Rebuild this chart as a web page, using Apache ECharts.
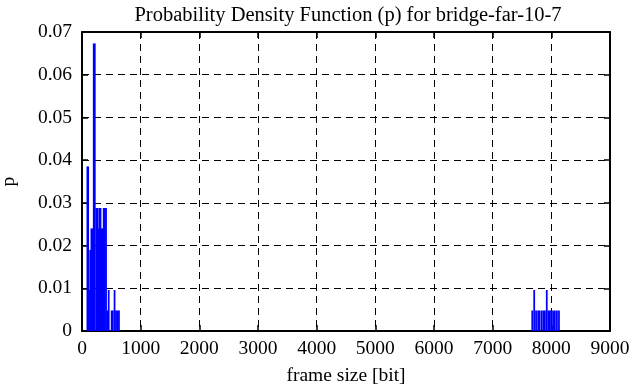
<!DOCTYPE html>
<html>
<head>
<meta charset="utf-8">
<script src="https://cdn.jsdelivr.net/npm/echarts@6/dist/echarts.min.js"></script>
<style>html,body{margin:0;padding:0;background:#fff}#c{width:631px;height:387px}</style>
</head>
<body>
<div id="c"></div>
<script>
// frame sizes (bit) of each impulse and their probability
const frameSize = [
  92, 105, 120, 140, 160, 180, 200, 218, 245, 268, 286, 302, 316, 335, 350, 370, 390, 410,
  432, 455, 505, 525, 555, 580, 605, 630,
  7675, 7708, 7740, 7775, 7800, 7835, 7865, 7890, 7922, 7950, 7975, 8000, 8030, 8060, 8095, 8130
];
const prob = [
  0.0385, 0.0385, 0.0096, 0.0190, 0.0240, 0.0240, 0.0673, 0.0673, 0.0288, 0.0288, 0.0240, 0.0288, 0.0288, 0.0240, 0.0240, 0.0288, 0.0288, 0.0288,
  0.0048, 0.0096, 0.0048, 0.0048, 0.0096, 0.0048, 0.0048, 0.0048,
  0.0048, 0.0096, 0.0048, 0.0048, 0.0048, 0.0048, 0.0048, 0.0048, 0.0096, 0.0048, 0.0048, 0.0048, 0.0048, 0.0048, 0.0048, 0.0048
];
const xTicks = [0, 1000, 2000, 3000, 4000, 5000, 6000, 7000, 8000, 9000];
const yTicks = [0, 0.01, 0.02, 0.03, 0.04, 0.05, 0.06, 0.07];
const titleText = 'Probability Density Function (p) for bridge-far-10-7';
const xName = 'frame size [bit]';
const yName = 'p';

const impulseWidth = 30; // bit
const font = 'Liberation Serif';
const data = frameSize.map((x, i) => [x, prob[i]]);

const chart = echarts.init(document.getElementById('c'), null, {renderer: 'canvas'});
const axisCommon = {
  axisLine: {show: true, onZero: false, lineStyle: {color: '#000', width: 2}},
  axisTick: {show: true, inside: true, length: 6, lineStyle: {color: '#000', width: 1.5}},
};
chart.setOption({
  animation: false,
  backgroundColor: '#fff',
  title: {
    text: titleText, left: 343, top: 0, textAlign: 'center',
    textStyle: {fontFamily: font, fontSize: 20.5, fontWeight: 'normal', color: '#000'}
  },
  grid: {left: 82, right: 21, top: 32, bottom: 56, containLabel: false, outerBoundsMode: 'none'},
  xAxis: [
    Object.assign({
      type: 'value', min: xTicks[0], max: xTicks[xTicks.length - 1], interval: 1000,
      position: 'bottom',
      name: xName, nameLocation: 'middle', nameGap: 35,
      nameTextStyle: {fontFamily: font, fontSize: 19.5, color: '#000'},
      axisLabel: {fontFamily: font, fontSize: 19.5, color: '#000', margin: 8,
        formatter: v => String(v)},
      splitLine: {show: true, lineStyle: {color: '#000', type: [7, 5], width: 1}}
    }, axisCommon),
    Object.assign({
      type: 'value', min: xTicks[0], max: xTicks[xTicks.length - 1], interval: 1000,
      position: 'top', axisLabel: {show: false}, splitLine: {show: false}
    }, axisCommon)
  ],
  yAxis: [
    Object.assign({
      type: 'value', min: yTicks[0], max: yTicks[yTicks.length - 1], interval: 0.01,
      position: 'left',
      name: yName, nameLocation: 'middle', nameGap: 63, nameRotate: 90,
      nameTextStyle: {fontFamily: font, fontSize: 19.5, color: '#000'},
      axisLabel: {fontFamily: font, fontSize: 19.5, color: '#000', margin: 10,
        formatter: v => v === 0 ? '0' : v.toFixed(2)},
      splitLine: {show: true, lineStyle: {color: '#000', type: [7, 5], width: 1}}
    }, axisCommon),
    Object.assign({
      type: 'value', min: yTicks[0], max: yTicks[yTicks.length - 1], interval: 0.01,
      position: 'right', axisLabel: {show: false}, splitLine: {show: false}
    }, axisCommon)
  ],
  series: [{
    type: 'custom',
    xAxisIndex: 0, yAxisIndex: 0,
    data: data,
    renderItem: function (params, api) {
      const x = api.value(0), y = api.value(1);
      const p0 = api.coord([x - impulseWidth / 2, y]);
      const p1 = api.coord([x + impulseWidth / 2, 0]);
      return {
        type: 'rect',
        shape: {x: p0[0], y: p0[1], width: p1[0] - p0[0], height: p1[1] - p0[1]},
        style: {fill: '#0000ff'}
      };
    },
    z: 3
  }]
});
</script>
</body>
</html>
